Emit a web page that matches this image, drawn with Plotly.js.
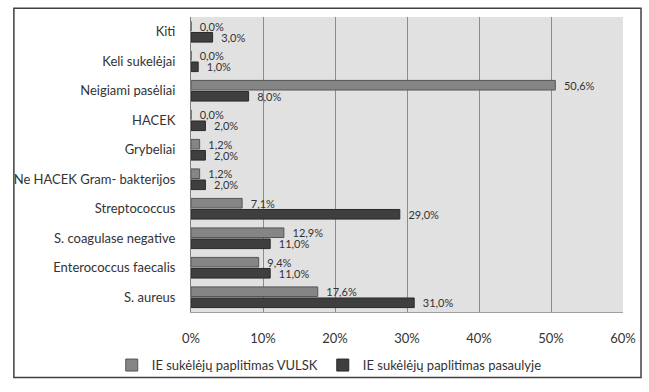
<!DOCTYPE html>
<html>
<head>
<meta charset="utf-8">
<script src="https://cdn.plot.ly/plotly-3.0.1.min.js"></script>
<style>html,body{margin:0;padding:0;background:#fff;}#chart{width:649px;height:392px;}</style>
</head>
<body>
<div id="chart"></div>
<script>
var categories = ["Kiti", "Keli sukelėjai", "Neigiami pasėliai", "HACEK", "Grybeliai",
  "Ne HACEK Gram- bakterijos", "Streptococcus", "S. coagulase negative",
  "Enterococcus faecalis", "S. aureus"];
var seriesNames = ["IE sukėlėjų paplitimas VULSK", "IE sukėlėjų paplitimas pasaulyje"];
var vulsk = [0.0, 0.0, 50.6, 0.0, 1.2, 1.2, 7.1, 12.9, 9.4, 17.6];
var pasaulyje = [3.0, 1.0, 8.0, 2.0, 2.0, 2.0, 29.0, 11.0, 11.0, 31.0];
var xTicks = [0, 10, 20, 30, 40, 50, 60];

var font = "Lato, 'Open Sans', sans-serif";
var traces = [
  {type: "bar", orientation: "h", name: seriesNames[0], y: categories, x: vulsk,
   marker: {color: "#858585", line: {color: "#555555", width: 1}},
   texttemplate: "\u00a0\u00a0%{x:.1f}%", textposition: "outside", cliponaxis: false, constraintext: "none",
   textfont: {family: font, size: 11, color: "#333333"}},
  {type: "bar", orientation: "h", name: seriesNames[1], y: categories, x: pasaulyje,
   marker: {color: "#3f3f3f", line: {color: "#2a2a2a", width: 1}},
   texttemplate: "\u00a0\u00a0%{x:.1f}%", textposition: "outside", cliponaxis: false, constraintext: "none",
   textfont: {family: font, size: 11, color: "#333333"}}
];
var layout = {
  width: 649, height: 392,
  margin: {l: 191, r: 26, t: 17, b: 69},
  paper_bgcolor: "#ffffff", plot_bgcolor: "#e1e1e1",
  separators: ", ",
  barmode: "group", bargap: 0.25, bargroupgap: 0.13,
  font: {family: font, size: 13, color: "#333333"},
  xaxis: {range: [0, 60], tickvals: xTicks, ticktext: xTicks.map(function(v){return v + "%";}),
    showgrid: true, gridcolor: "#8c8c8c", gridwidth: 1, zeroline: false,
    ticks: "outside", ticklen: 14, tickcolor: "rgba(0,0,0,0)",
    showline: true, linecolor: "#a0a0a0", linewidth: 1,
    tickfont: {family: font, size: 13, color: "#333333"}, fixedrange: true},
  yaxis: {autorange: "reversed", showgrid: false, zeroline: false,
    showline: true, linecolor: "#808080", linewidth: 1,
    ticks: "outside", ticklen: 12, tickcolor: "rgba(0,0,0,0)",
    tickfont: {family: font, size: 13, color: "#333333"}, fixedrange: true},
  legend: {orientation: "h", x: 0.32, xanchor: "center", y: -0.18, yanchor: "middle",
    bgcolor: "rgba(0,0,0,0)",
    font: {family: font, size: 13, color: "#333333"}, itemwidth: 30, traceorder: "normal"},
  showlegend: true,
  shapes: [{type: "rect", xref: "paper", yref: "paper", x0: -0.41, x1: 1.0417, y0: -0.222, y1: 1.0294,
    line: {color: "#404040", width: 1.5}, fillcolor: "rgba(0,0,0,0)", layer: "below"}]
};
Plotly.newPlot("chart", traces, layout, {displayModeBar: false, staticPlot: true});
</script>
</body>
</html>
